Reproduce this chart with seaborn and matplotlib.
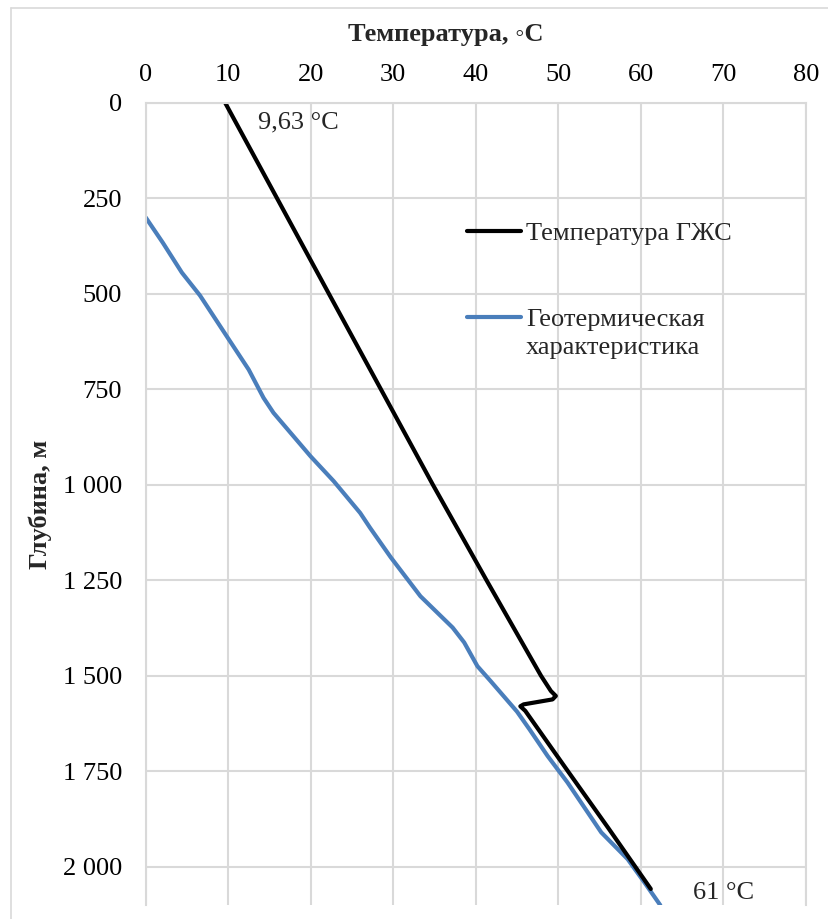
import numpy as np
import pandas as pd
import matplotlib
matplotlib.use("Agg")
import matplotlib.pyplot as plt
import seaborn as sns
from matplotlib.lines import Line2D

# ---- data ----
gjs_temp = [9.63, 22.2, 34.8, 41.3, 47.9, 49.1, 49.7, 49.3, 45.8, 45.4, 46.0, 51.0, 56.1, 61.2]
gjs_depth = [0, 500, 1000, 1250, 1500, 1540, 1553, 1562, 1575, 1580, 1592, 1745, 1900, 2058]

geo_temp = [0, 2.1, 4.4, 6.6, 9.85, 12.5, 14.3, 15.5, 20.0, 22.8, 26.0, 27.2, 29.7,
            33.3, 37.2, 38.6, 40.2, 41.8, 45.0, 46.5, 48.7, 51.1, 55.2, 58.4, 60.4, 62.4]
geo_depth = [300, 367, 445, 505, 612, 699, 773, 812, 926, 991, 1074, 1113, 1190,
             1292, 1374, 1413, 1475, 1514, 1594, 1640, 1710, 1779, 1910, 1980, 2040, 2102]

x_ticks = [0, 10, 20, 30, 40, 50, 60, 70, 80]
y_ticks = [0, 250, 500, 750, 1000, 1250, 1500, 1750, 2000]
y_ticklabels = ["0", "250", "500", "750", "1 000", "1 250", "1 500", "1 750", "2 000"]

series_gjs = "Температура ГЖС"
series_geo_l1 = "Геотермическая"
series_geo_l2 = "характеристика"
label_start = "9,63 °C"
label_end = "61 °C"
x_title = "Температура, ◦С"
y_title = "Глубина, м"

df_gjs = pd.DataFrame({"T": gjs_temp, "D": gjs_depth})
df_geo = pd.DataFrame({"T": geo_temp, "D": geo_depth})

sns.set_theme(style="whitegrid")
plt.rcParams['font.family'] = ['Liberation Serif', 'DejaVu Serif']

FS = 19
W, H = 829, 919
fig = plt.figure(figsize=(W / 100, H / 100), dpi=100)
ax = fig.add_axes([145.5 / W, 1 - 905 / H, (806 - 145.5) / W, (905 - 102.5) / H])

black = "#000000"
blue = "#4a7ebb"

sns.lineplot(data=df_geo, x="T", y="D", sort=False, estimator=None, ax=ax,
             color=blue, lw=3.0, solid_capstyle="butt", solid_joinstyle="round")
sns.lineplot(data=df_gjs, x="T", y="D", sort=False, estimator=None, ax=ax,
             color=black, lw=3.0, solid_joinstyle="round")

ax.set_xlim(0, 80)
ax.set_ylim(2100, 0)
ax.set_xticks(x_ticks)
ax.set_yticks(y_ticks)
ax.set_yticklabels(y_ticklabels)
ax.xaxis.tick_top()
ax.tick_params(axis="x", length=0, pad=12, labelsize=FS, colors="#000000")
ax.tick_params(axis="y", length=0, pad=17, labelsize=FS, colors="#000000")
ax.set_xlabel("")
ax.set_ylabel("")
ax.grid(True, color="#d9d9d9", lw=1.5)
ax.spines["bottom"].set_visible(False)
for s in ["left", "top", "right"]:
    ax.spines[s].set_color("#d9d9d9")
    ax.spines[s].set_linewidth(1.5)

# data labels
ax.text(13.65, 51, label_start, fontsize=FS, va="center", ha="left")
ax.text(66.3, 2068, label_end, fontsize=FS, va="center", ha="left")

# axis titles
fig.text(446 / W, 1 - 35 / H, x_title, fontsize=FS, fontweight="bold",
         ha="center", va="center")
fig.text(40 / W, 1 - 504 / H, y_title, fontsize=FS, fontweight="bold",
         ha="center", va="center", rotation=90)

# legend
handles = [Line2D([], [], color=black, lw=3.0), Line2D([], [], color=blue, lw=3.0)]
leg = ax.legend(handles, [series_gjs, series_geo_l1], loc="upper left",
                bbox_to_anchor=((467 - 145.5) / (806 - 145.5), 1 - (222 - 102.5) / (905 - 102.5)),
                frameon=False, fontsize=FS, handlelength=2.05, handletextpad=0.2,
                labelspacing=2.35, borderaxespad=0, borderpad=0)
fig.text(526 / W, 1 - 348 / H, series_geo_l2, fontsize=FS, ha="left", va="center")

# chart-area border (top and left visible)
fig.add_artist(Line2D([11 / W, 11 / W], [0, 1 - 8 / H], color="#d9d9d9", lw=1.2))
fig.add_artist(Line2D([11 / W, 1], [1 - 8 / H, 1 - 8 / H], color="#d9d9d9", lw=1.2))

fig.savefig("out.png", dpi=100, facecolor="white")
